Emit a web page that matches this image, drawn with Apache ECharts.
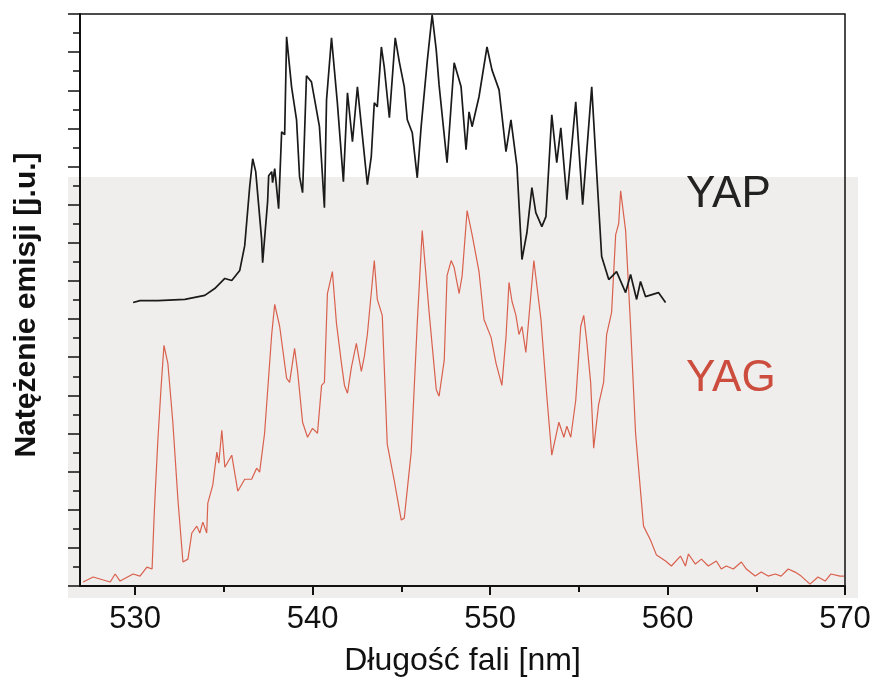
<!DOCTYPE html>
<html>
<head>
<meta charset="utf-8">
<title>YAP / YAG</title>
<script src="https://cdn.jsdelivr.net/npm/echarts@6/dist/echarts.min.js"></script>
<style>
  html, body { margin: 0; padding: 0; background: #fff; }
  #chart { width: 881px; height: 682px; }
</style>
</head>
<body>
<div id="chart"></div>
<script>
// ---------- dane ----------
var xTicksMajor = [530, 540, 550, 560, 570];
var xTicksMinor = [535, 545, 555, 565];

// YAP — krzywa czarna
var yapNm = [529.89, 530.28, 531.29, 532.81, 533.93, 534.49, 535.06, 535.45, 535.90, 536.18,
  536.46, 536.63, 536.80, 537.13, 537.19, 537.47, 537.53, 537.70, 537.75, 537.87,
  538.09, 538.26, 538.43, 538.54, 538.82, 539.10, 539.27, 539.44, 539.66, 539.94,
  540.22, 540.39, 540.67, 540.79, 541.07, 541.40, 541.74, 541.97, 542.25, 542.53,
  543.09, 543.31, 543.48, 543.65, 543.88, 544.04, 544.33, 544.66, 544.89, 545.17,
  545.34, 545.62, 545.90, 546.12, 546.46, 546.74, 546.97, 547.13, 547.58, 547.98,
  548.37, 548.65, 548.82, 548.99, 549.38, 549.83, 550.11, 550.51, 550.90, 551.18,
  551.52, 551.80, 552.08, 552.36, 552.58, 552.92, 553.15, 553.48, 553.76, 553.99,
  554.33, 554.83, 555.22, 555.73, 556.01, 556.29, 556.69, 557.13, 557.64, 557.92,
  558.26, 558.48, 558.76, 559.49, 559.89];
var yapVal = [14.87, 14.97, 14.97, 15.03, 15.24, 15.60, 16.13, 16.02, 16.55, 17.85,
  20.94, 22.41, 21.73, 18.22, 16.96, 20.16, 21.52, 21.73, 21.15, 21.89,
  19.79, 23.82, 23.67, 28.80, 26.18, 24.45, 21.47, 20.63, 26.76, 26.44,
  24.98, 24.09, 19.84, 25.50, 28.75, 25.34, 21.21, 25.87, 23.30, 26.18,
  21.05, 22.52, 25.34, 25.13, 28.27, 27.23, 24.56, 28.75, 27.49, 26.18,
  24.45, 23.77, 21.41, 24.09, 27.49, 29.95, 28.12, 26.28, 22.20, 27.44,
  26.18, 22.88, 24.87, 24.09, 25.66, 28.27, 27.07, 26.02, 22.78, 24.45,
  21.99, 17.12, 18.54, 20.89, 19.58, 18.85, 19.37, 24.71, 22.20, 24.03,
  20.26, 25.39, 20.00, 26.18, 21.68, 17.28, 16.07, 16.49, 15.39, 16.34,
  15.03, 15.97, 15.18, 15.39, 14.87];

// YAG — krzywa czerwona
var yagNm = [527.08, 527.64, 528.60, 528.88, 529.16, 529.89, 530.28, 530.67, 530.96, 531.07,
  531.12, 531.29, 531.46, 531.63, 531.85, 532.13, 532.42, 532.70, 532.98, 533.20,
  533.48, 533.65, 533.82, 534.04, 534.10, 534.38, 534.61, 534.72, 534.89, 535.06,
  535.45, 535.79, 536.18, 536.57, 536.85, 537.02, 537.30, 537.70, 537.87, 538.15,
  538.54, 538.71, 538.99, 539.16, 539.44, 539.72, 540.00, 540.28, 540.51, 540.67,
  540.84, 541.12, 541.35, 541.63, 541.80, 541.97, 542.19, 542.47, 542.75, 542.92,
  543.09, 543.48, 543.65, 543.93, 544.21, 544.61, 545.00, 545.17, 545.56, 545.90,
  546.18, 546.57, 546.97, 547.13, 547.42, 547.58, 547.81, 547.98, 548.26, 548.43,
  548.71, 548.99, 549.38, 549.66, 550.06, 550.34, 550.67, 550.90, 551.07, 551.24,
  551.46, 551.63, 551.80, 552.02, 552.47, 552.87, 553.20, 553.48, 553.88, 554.16,
  554.33, 554.55, 554.83, 555.11, 555.28, 555.45, 555.67, 555.84, 556.12, 556.40,
  556.57, 556.85, 557.08, 557.25, 557.36, 557.64, 557.92, 558.20, 558.65, 559.04,
  559.38, 559.49, 559.89, 560.22, 560.73, 561.01, 561.18, 561.57, 561.91, 562.30,
  562.75, 563.03, 563.31, 563.71, 564.16, 564.44, 564.94, 565.28, 565.67, 566.07,
  566.40, 566.80, 567.19, 567.53, 568.03, 568.48, 568.88, 569.21, 569.72, 569.94];
var yagVal = [0.21, 0.47, 0.21, 0.63, 0.26, 0.63, 0.52, 0.99, 0.89, 3.51,
  4.56, 7.70, 10.31, 12.62, 11.68, 8.59, 4.50, 1.26, 1.41, 2.78,
  3.14, 2.78, 3.35, 2.78, 4.35, 5.29, 7.02, 6.44, 8.17, 6.23,
  6.86, 4.97, 5.60, 5.60, 6.18, 5.97, 8.01, 13.19, 14.77, 13.61,
  10.89, 10.68, 12.46, 11.26, 8.59, 7.80, 8.27, 8.01, 10.52, 10.68,
  15.34, 16.49, 13.77, 11.68, 10.52, 10.11, 11.47, 12.72, 11.26, 12.04,
  13.19, 17.07, 15.03, 14.19, 7.44, 5.50, 3.46, 3.56, 7.02, 13.77,
  18.64, 14.35, 10.31, 9.95, 11.83, 16.28, 17.07, 16.70, 15.34, 16.28,
  19.69, 18.43, 16.49, 13.98, 13.04, 11.68, 10.52, 13.04, 15.92, 14.92,
  14.19, 13.19, 13.61, 12.25, 17.07, 13.98, 9.95, 6.86, 8.59, 7.80,
  8.38, 7.80, 9.74, 13.61, 14.19, 12.83, 10.68, 7.23, 9.53, 10.68,
  13.19, 14.35, 18.43, 19.01, 20.73, 18.64, 13.61, 8.01, 3.14, 2.41,
  1.62, 1.52, 1.31, 1.05, 1.57, 1.05, 1.68, 1.15, 1.41, 1.05,
  1.31, 0.89, 1.05, 0.89, 1.26, 0.89, 0.52, 0.73, 0.52, 0.63,
  0.52, 0.89, 0.73, 0.52, 0.10, 0.47, 0.26, 0.63, 0.52, 0.52];

function pairs(xs, ys) {
  return xs.map(function (x, i) { return [x, ys[i]]; });
}

var FONT = "'Liberation Sans', Arial, sans-serif";
var chart = echarts.init(document.getElementById('chart'));

var option = {
  backgroundColor: '#ffffff',
  animation: false,
  grid: {
    left: 80, top: 14, right: 36, bottom: 95,
    show: true,
    backgroundColor: 'transparent',
    borderColor: '#111',
    borderWidth: 1.5
  },
  graphic: [
    {
      type: 'rect',
      z: -10,
      silent: true,
      shape: { x: 68, y: 177, width: 790, height: 421 },
      style: { fill: '#efeeec' }
    },
    {
      type: 'text',
      left: 686, top: 173,
      style: { text: 'YAP', fill: '#222', font: '44px ' + FONT }
    },
    {
      type: 'text',
      left: 686, top: 357,
      style: { text: 'YAG', fill: '#cc4c3d', font: '44px ' + FONT }
    }
  ],
  xAxis: [
    {
      type: 'value',
      min: 526.9,
      max: 570,
      name: 'Długość fali [nm]',
      nameLocation: 'middle',
      nameGap: 59,
      nameTextStyle: { color: '#111', fontSize: 32, fontFamily: FONT },
      axisLine: { show: true, lineStyle: { color: '#111', width: 2 } },
      axisTick: { show: true, inside: false, length: 9, customValues: xTicksMajor, lineStyle: { color: '#111', width: 2 } },
      axisLabel: { customValues: xTicksMajor, color: '#111', fontSize: 31, fontFamily: FONT, margin: 18 },
      splitLine: { show: false }
    },
    {
      type: 'value',
      min: 526.9,
      max: 570,
      position: 'bottom',
      axisLine: { show: false },
      axisTick: { show: true, inside: false, length: 6, customValues: xTicksMinor, lineStyle: { color: '#111', width: 2 } },
      axisLabel: { show: false },
      splitLine: { show: false }
    }
  ],
  yAxis: {
    type: 'value',
    min: 0,
    max: 30,
    interval: 2,
    name: 'Natężenie emisji [j.u.]',
    nameLocation: 'middle',
    nameGap: 38,
    nameTextStyle: { color: '#111', fontSize: 30, fontWeight: 'bold', fontFamily: FONT, padding: [0, 10, 0, 0] },
    axisLine: { show: true, lineStyle: { color: '#111', width: 2 } },
    axisTick: { show: true, inside: false, length: 12, lineStyle: { color: '#111', width: 1.5 } },
    minorTick: { show: true, splitNumber: 2, length: 7, lineStyle: { color: '#111', width: 1.5 } },
    axisLabel: { show: false },
    splitLine: { show: false }
  },
  series: [
    {
      name: 'YAP',
      type: 'line',
      data: pairs(yapNm, yapVal),
      showSymbol: false,
      lineStyle: { color: '#1a1a1a', width: 1.7 },
      z: 3
    },
    {
      name: 'YAG',
      type: 'line',
      data: pairs(yagNm, yagVal),
      showSymbol: false,
      lineStyle: { color: '#d9604d', width: 1.2 },
      z: 2
    }
  ]
};

chart.setOption(option);
</script>
</body>
</html>
